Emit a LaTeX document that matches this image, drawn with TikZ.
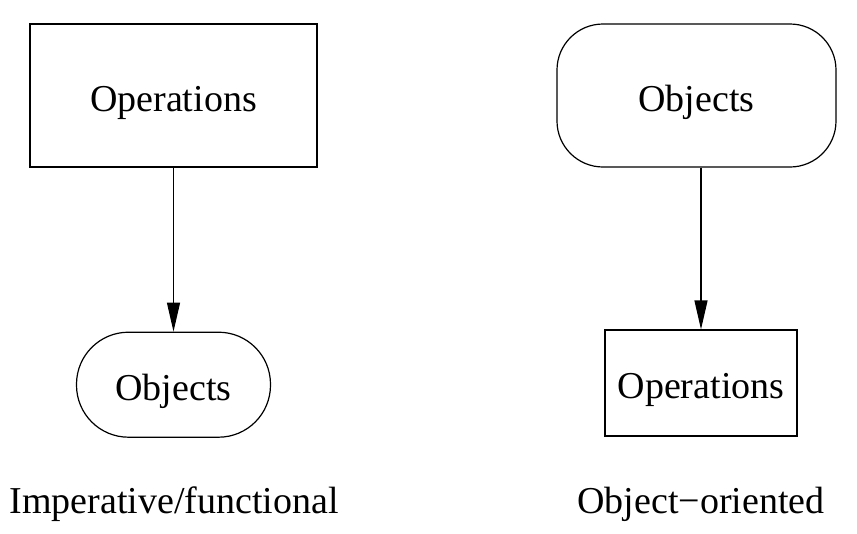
\documentclass[tikz,border=0pt]{standalone}
\usepackage{fontspec}
\setmainfont{Liberation Serif}
\usetikzlibrary{positioning,arrows.meta}

\begin{document}
\begin{tikzpicture}[
		x=1pt, y=-1pt,
		opbox/.style={draw, line width=1.2pt, inner sep=0pt, text height=31pt, text depth=0pt, font=\fontsize{38}{46}\selectfont},
		objbox/.style={opbox, rounded corners=#1},
		> = {Triangle[length=29pt,width=13pt]},
		flow/.style={->, line width=1.2pt},
		caption/.style={anchor=base, inner sep=0pt, font=\fontsize{38}{46}\selectfont}
		]
		\path[use as bounding box] (0,0) rectangle (857,533);
		% Imperative / functional
		\node[opbox, minimum width=287pt, minimum height=143pt] at (173.5,95.5) (opsL) {Operations};
		\node[objbox=52pt, minimum width=194pt, minimum height=105pt, below=164pt of opsL] (objL) {Objects};
		% Object oriented
		\node[objbox=46pt, minimum width=279pt, minimum height=143pt] at (696.5,95.5) (objR) {Objects};
		\node[opbox, minimum width=192pt, minimum height=106pt] at (701,383) (opsR) {Operations};
		% the arrows
		\draw[flow] (opsL) -- (objL);
		\draw[flow] (opsR |- objR.south) -- (opsR);

		% denote
		\node[caption] at (174,513) (impL) {Imperative/functional};
		\node[caption] at (701,513) (ooR) {Object−oriented};
	\end{tikzpicture}
\end{document}
